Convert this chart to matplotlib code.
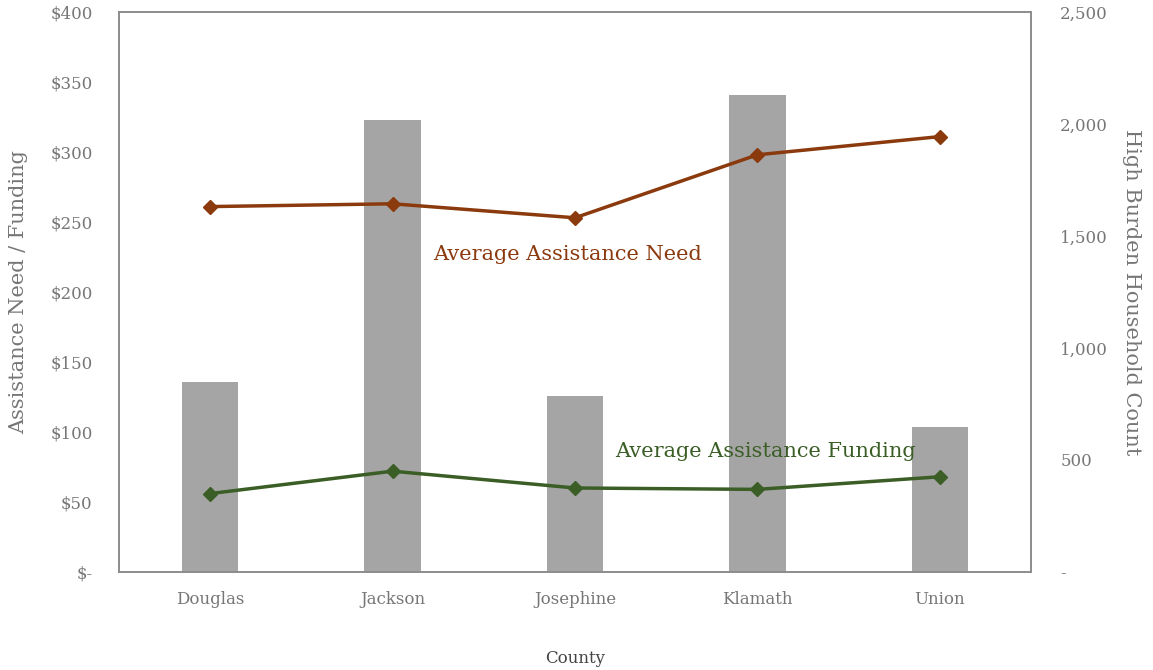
import numpy as np
import matplotlib
matplotlib.use("Agg")
import matplotlib.pyplot as plt
from matplotlib.ticker import FuncFormatter

counties = ["Douglas", "Jackson", "Josephine", "Klamath", "Union"]
household_count = [848, 2018, 786, 2129, 647]
avg_need = [261, 263, 253, 298, 311]
avg_funding = [56, 72, 60, 59, 68]

need_color = "#8b3a0e"
fund_color = "#3b5e26"
bar_color = "#a5a5a5"
text_gray = "#767676"
spine_gray = "#8c8c8c"

plt.rcParams["font.family"] = ["DejaVu Serif"]

fig = plt.figure(figsize=(11.53, 6.70), dpi=100)
ax = fig.add_axes([0.1032, 0.1463, 0.7910, 0.8358])
ax2 = ax.twinx()

x = np.arange(len(counties))

# bars on the right axis, lines on the left
ax2.bar(x, household_count, width=0.31, color=bar_color, zorder=1)
ax2.set_ylim(0, 2500)
ax2.set_yticks(np.arange(0, 2501, 500))
ax2.yaxis.set_major_formatter(FuncFormatter(lambda v, p: "-" if v == 0 else f"{int(v):,}"))

ax.set_zorder(ax2.get_zorder() + 1)
ax.patch.set_visible(False)

ax.plot(x, avg_need, color=need_color, lw=2.5, marker="D", ms=7)
ax.plot(x, avg_funding, color=fund_color, lw=2.5, marker="D", ms=7)
ax.set_ylim(0, 400)
ax.set_yticks(np.arange(0, 401, 50))
ax.yaxis.set_major_formatter(FuncFormatter(lambda v, p: "$-" if v == 0 else f"${int(v)}"))
ax.set_xlim(-0.5, 4.5)
ax.set_xticks(x)
ax.set_xticklabels(counties)

for a in (ax, ax2):
    a.tick_params(length=0, labelsize=12, labelcolor=text_gray)
    for s in a.spines.values():
        s.set_color(spine_gray)
        s.set_linewidth(1.2)
ax.tick_params(axis="y", pad=19)
ax.tick_params(axis="x", pad=14)
ax2.tick_params(axis="y", pad=21)

ax.set_ylabel("Assistance Need / Funding", fontsize=15, color=text_gray, labelpad=16)
ax2.set_ylabel("High Burden Household Count", fontsize=15, color=text_gray,
               rotation=270, labelpad=24)
ax.set_xlabel("County", fontsize=12, color="#444444", labelpad=30)

ax.text(1.22, 223, "Average Assistance Need", color=need_color, fontsize=15)
ax.text(2.22, 82, "Average Assistance Funding", color=fund_color, fontsize=15)

fig.savefig("out.png", dpi=100)
